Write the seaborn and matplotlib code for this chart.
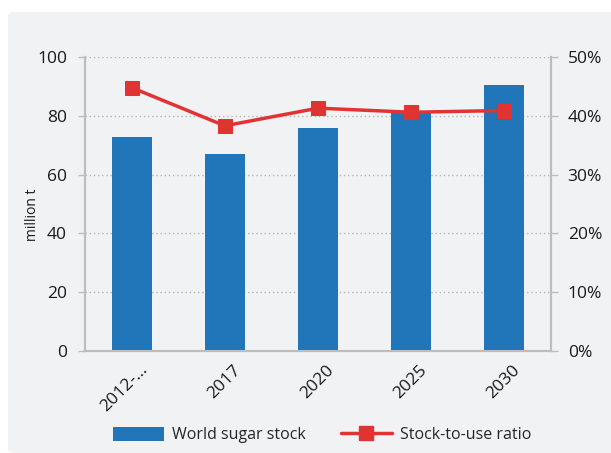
import matplotlib
matplotlib.use("Agg")
import matplotlib.pyplot as plt
import matplotlib.transforms as mtransforms
import seaborn as sns
import pandas as pd
from matplotlib.patches import FancyBboxPatch
from matplotlib.ticker import FuncFormatter, FixedLocator
from matplotlib.lines import Line2D
from matplotlib.patches import Patch

categories = ["2012-…", "2017", "2020", "2025", "2030"]
stock = [72.8, 67.0, 75.9, 80.8, 90.5]
ratio = [0.448, 0.383, 0.413, 0.406, 0.409]

sns.set_style("white")
plt.rcParams['font.family'] = ['Open Sans', 'DejaVu Sans']

BG = "#f1f2f4"
BLUE = "#2076b8"
RED = "#e23333"
GRAY = "#bdbdbd"
FS = 12.5

fig = plt.figure(figsize=(6.11, 4.53), dpi=100, facecolor="white")
panel = FancyBboxPatch((8/611, 0.0), 1.0, 1 - 12/453, boxstyle="round,pad=0,rounding_size=0.01",
                       transform=fig.transFigure, facecolor=BG, edgecolor="none", zorder=-10)
fig.patches.append(panel)

ax = fig.add_axes([85/611, 1 - 351/453, (551-85)/611, (351-57)/453])
ax.patch.set_alpha(0)
df = pd.DataFrame({"cat": categories, "stock": stock, "ratio": ratio})
sns.barplot(data=df, x="cat", y="stock", color=BLUE, width=0.43, saturation=1, linewidth=0,
            ax=ax, zorder=3)
ax.set_xlim(-0.5, 4.5)
ax.set_ylim(0, 100)
ax.set_yticks([0, 20, 40, 60, 80, 100])
ax.yaxis.grid(True, linestyle=(0, (1, 2)), color="#b5b5b5", linewidth=1)
ax.set_axisbelow(True)
ax.set_xlabel("")
ax.set_ylabel("million t", fontsize=10, color="#1a1a1a")
ax.yaxis.set_label_coords(-0.097, 0.465)
ax.tick_params(axis="y", length=5, width=1, color=GRAY, labelsize=FS, pad=8, labelcolor="#1a1a1a")
ax.tick_params(axis="x", which="major", length=0, labelsize=FS, pad=8, labelcolor="#1a1a1a")
ax.xaxis.set_minor_locator(FixedLocator([-0.5, 0.5, 1.5, 2.5, 3.5, 4.5]))
ax.tick_params(axis="x", which="minor", length=5, width=1, color=GRAY)
offset = mtransforms.ScaledTranslation(8/100, 0, fig.dpi_scale_trans)
for lab in ax.get_xticklabels():
    lab.set_rotation(45)
    lab.set_ha("right")
    lab.set_rotation_mode("anchor")
    lab.set_transform(lab.get_transform() + offset)
ax.spines["top"].set_visible(False)
for s in ["left", "right", "bottom"]:
    ax.spines[s].set_color(GRAY)
    ax.spines[s].set_linewidth(1.5)

ax2 = ax.twinx()
ax2.patch.set_alpha(0)
sns.lineplot(x=list(range(len(categories))), y=ratio, ax=ax2, color=RED, linewidth=2.5,
             marker="s", markersize=10, markeredgecolor=RED, markerfacecolor=RED, zorder=5)
ax2.set_ylim(0, 0.5)
ax2.set_yticks([0, 0.1, 0.2, 0.3, 0.4, 0.5])
ax2.yaxis.set_major_formatter(FuncFormatter(lambda v, p: f"{v*100:.0f}%"))
ax2.tick_params(axis="y", length=5, width=1, color=GRAY, labelsize=FS, pad=7, labelcolor="#1a1a1a")
ax2.spines["top"].set_visible(False)
for s in ["left", "right", "bottom"]:
    ax2.spines[s].set_color(GRAY)
    ax2.spines[s].set_linewidth(1.5)

handles = [Patch(facecolor=BLUE, edgecolor="none", label="World sugar stock"),
           Line2D([0], [0], color=RED, linewidth=2.5, marker="s", markersize=10, label="Stock-to-use ratio")]
fig.legend(handles=handles, loc="center", bbox_to_anchor=(322/611, 1 - 435/453), ncol=2, frameon=False,
           fontsize=11.5, handlelength=3.2, handleheight=1.0, columnspacing=2.2, handletextpad=0.5)

fig.savefig("out.png", dpi=100, facecolor="white")
